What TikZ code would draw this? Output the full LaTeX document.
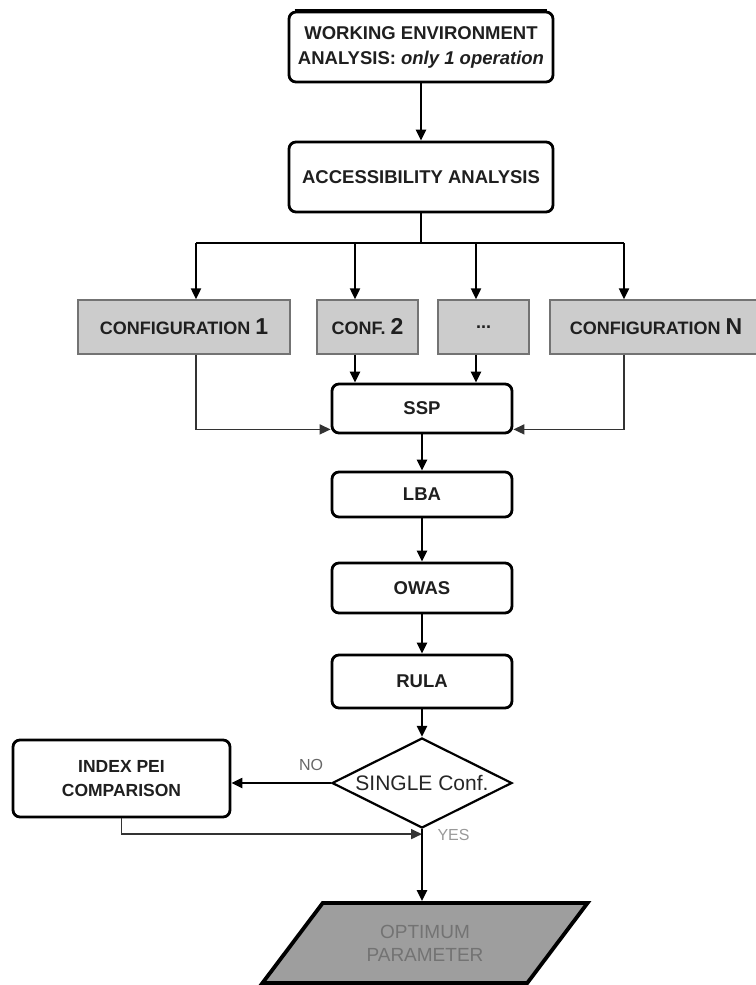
\documentclass[tikz,border=0pt]{standalone}
\usepackage{fontspec}
\setmainfont{Liberation Sans}
\usetikzlibrary{shapes.geometric,arrows.meta,calc}

\begin{document}
\begin{tikzpicture}[x=1pt,y=-1pt,
  txt/.style={font=\fontsize{18.5}{25}\selectfont\bfseries, text=black!88},
  proc/.style={txt, draw=black, line width=2.8pt, rounded corners=7pt,
    fill=white, inner sep=0pt, align=center, minimum width=180pt},
  conf/.style={txt, draw=black!55, line width=1.4pt, fill=black!20,
    inner sep=0pt, minimum height=54pt, font=\fontsize{18}{20}\selectfont\bfseries},
  tip/.style={-{Triangle[length=11pt,width=10pt]}},
  arr/.style={line width=2.2pt, tip},
  feed/.style={line width=1.6pt, draw=black!80, tip},
  tag/.style={font=\fontsize{16}{16}\selectfont}
]
\useasboundingbox (0,0) rectangle (755,985);

% main chain of process boxes
\node[proc, minimum width=264pt, minimum height=70pt] (wea) at (421,47)
  {WORKING ENVIRONMENT\\ANALYSIS: \textit{only 1 operation}};
\node[proc, minimum width=264pt, minimum height=70pt] (acc) at (421,177)
  {ACCESSIBILITY ANALYSIS};

% candidate configurations
\node[conf, minimum width=212pt] (c1) at (184,327)
  {CONFIGURATION {\fontsize{23}{23}\selectfont 1}};
\node[conf, minimum width=101pt] (c2) at (367.5,327)
  {CONF. {\fontsize{23}{23}\selectfont 2}};
\node[conf, minimum width=91pt] (c3) at (483.5,327) {...};
\node[conf, minimum width=212pt] (cN) at (656,327)
  {CONFIGURATION {\fontsize{23}{23}\selectfont N}};

\node[proc, minimum height=49pt] (ssp) at (422,408.5) {SSP};
\node[proc, minimum height=45pt] (lba) at (422,494.5) {LBA};
\node[proc, minimum height=50pt] (owas) at (422,588) {OWAS};
\node[proc, minimum height=53pt] (rula) at (422,681.5) {RULA};

% decision
\node[draw=black, line width=2.2pt, diamond, inner sep=0pt,
  minimum width=180pt, minimum height=90pt, fill=white,
  label={[font=\fontsize{21}{21}\selectfont, text=black!85]center:SINGLE Conf.}]
  (dec) at (422,783) {};

\node[proc, minimum width=217pt, minimum height=77pt,
  font=\fontsize{17.5}{24}\selectfont\bfseries] (idx) at (121.5,778.5)
  {INDEX PEI\\COMPARISON};

% result
\node[trapezium, trapezium left angle=46.5, trapezium right angle=133.5,
  trapezium stretches=true, minimum width=326pt, minimum height=80pt,
  draw=black, line width=3.8pt, fill=black!38, inner sep=0pt, align=center,
  font=\fontsize{19}{23}\selectfont, text=black!55] (opt) at (425,943)
  {OPTIMUM\\PARAMETER};

% heavier top edge of the first box
\draw[line width=4pt] ([xshift=7pt]wea.north west) -- ([xshift=-7pt]wea.north east);

% distribution bus
\coordinate (b1) at (196,243);
\coordinate (b2) at (355,243);
\coordinate (b3) at (476,243);
\coordinate (bN) at (624,243);

\draw[arr] (wea) -- (acc);
\draw[line width=2.2pt] (acc.south) -- (acc.south |- b1);
\draw[line width=2.2pt] (b1) -- (bN);
\draw[arr] (b1) -- (b1 |- c1.north);
\draw[arr] (b2) -- (b2 |- c2.north);
\draw[arr] (b3) -- (b3 |- c3.north);
\draw[arr] (bN) -- (bN |- cN.north);

% configurations into SSP
\coordinate (sspL) at ($(ssp.south west)+(0,-5)$);
\coordinate (sspR) at ($(ssp.south east)+(0,-5)$);
\draw[feed] (b1 |- c1.south) |- (sspL);
\draw[feed] (bN |- cN.south) |- (sspR);
\draw[arr] (b2 |- c2.south) -- (b2 |- ssp.north);
\draw[arr] (b3 |- c3.south) -- (b3 |- ssp.north);

\draw[arr] (ssp) -- (lba);
\draw[arr] (lba) -- (owas);
\draw[arr] (owas) -- (rula);
\draw[arr] (rula) -- (dec);

% decision branches
\draw[arr] (dec.west) -- (dec.west -| idx.east)
  node[tag, text=black!60, pos=0.2, above=8pt] (no) {NO};
\coordinate (join) at ($(dec.south)+(0,5)$);
\draw[feed] (idx.south) |- (join);
\draw[arr] (dec.south) -- (dec.south |- opt.north);
\node[tag, text=black!40, anchor=west] (yes) at ($(dec.south)+(12,6)$) {YES};
\end{tikzpicture}
\end{document}
